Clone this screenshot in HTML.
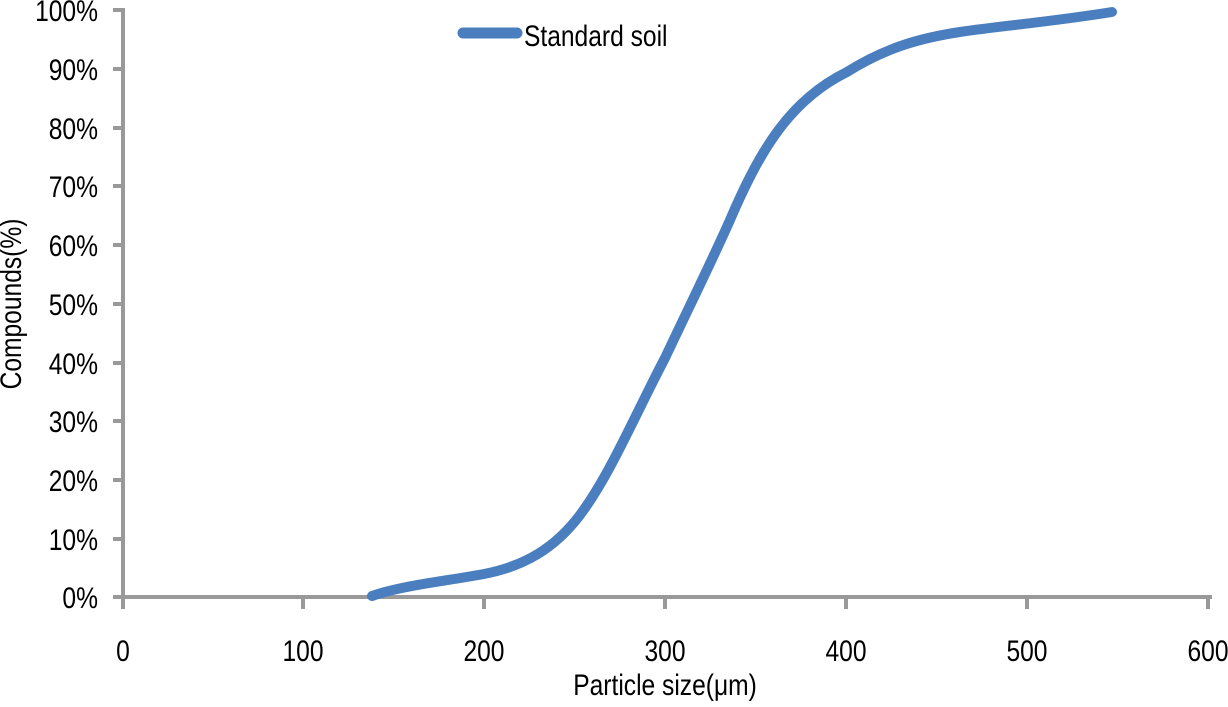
<!DOCTYPE html>
<html><head><meta charset="utf-8"><style>
body{margin:0;background:#fff;}
svg text{font-family:"Liberation Sans",sans-serif;fill:#000;}
</style></head><body>
<svg width="1228" height="702" viewBox="0 0 1228 702" xmlns="http://www.w3.org/2000/svg">
<g stroke="#999" stroke-width="4" fill="none">
<line x1="123" y1="8" x2="123" y2="599"/>
<line x1="121" y1="597" x2="1212" y2="597"/>
<line x1="113" y1="10" x2="123" y2="10"/>
<line x1="113" y1="69" x2="123" y2="69"/>
<line x1="113" y1="128" x2="123" y2="128"/>
<line x1="113" y1="186" x2="123" y2="186"/>
<line x1="113" y1="245" x2="123" y2="245"/>
<line x1="113" y1="304" x2="123" y2="304"/>
<line x1="113" y1="363" x2="123" y2="363"/>
<line x1="113" y1="421" x2="123" y2="421"/>
<line x1="113" y1="480" x2="123" y2="480"/>
<line x1="113" y1="539" x2="123" y2="539"/>
<line x1="113" y1="597" x2="123" y2="597"/>
<line x1="123" y1="597" x2="123" y2="609"/>
<line x1="303" y1="597" x2="303" y2="609"/>
<line x1="484" y1="597" x2="484" y2="609"/>
<line x1="665" y1="597" x2="665" y2="609"/>
<line x1="846" y1="597" x2="846" y2="609"/>
<line x1="1027" y1="597" x2="1027" y2="609"/>
<line x1="1208" y1="597" x2="1208" y2="609"/>
</g>
<g transform="scale(0.82,1)" font-size="30">
<g text-anchor="end">
<text x="119.5" y="21">100%</text>
<text x="119.5" y="80">90%</text>
<text x="119.5" y="139">80%</text>
<text x="119.5" y="197">70%</text>
<text x="119.5" y="256">60%</text>
<text x="119.5" y="315">50%</text>
<text x="119.5" y="374">40%</text>
<text x="119.5" y="432">30%</text>
<text x="119.5" y="491">20%</text>
<text x="119.5" y="550">10%</text>
<text x="119.5" y="608">0%</text>
</g>
<g text-anchor="middle">
<text x="150" y="661">0</text>
<text x="369.5" y="661">100</text>
<text x="590.2" y="661">200</text>
<text x="811" y="661">300</text>
<text x="1031.7" y="661">400</text>
<text x="1252.4" y="661">500</text>
<text x="1473.2" y="661">600</text>
<text x="811" y="695">Particle size(μm)</text>
</g>
<text x="639" y="46">Standard soil</text>
</g>
<text transform="translate(21,304) rotate(-90) scale(0.82,1)" font-size="30" text-anchor="middle">Compounds(%)</text>
<path d="M372,596 C400,586 440,582 484,574 C525,566 555,548 580,515 C610,475 635,415 665,358 C690,305 710,265 730,220 C760,150 790,100 847,72 C885,48 920,38 960,32 C1000,26 1050,22 1112,12" fill="none" stroke="#4a7ebf" stroke-width="10" stroke-linecap="round"/>
<line x1="463" y1="33" x2="517" y2="33" stroke="#4a7ebf" stroke-width="11" stroke-linecap="round"/>
</svg>
</body></html>
